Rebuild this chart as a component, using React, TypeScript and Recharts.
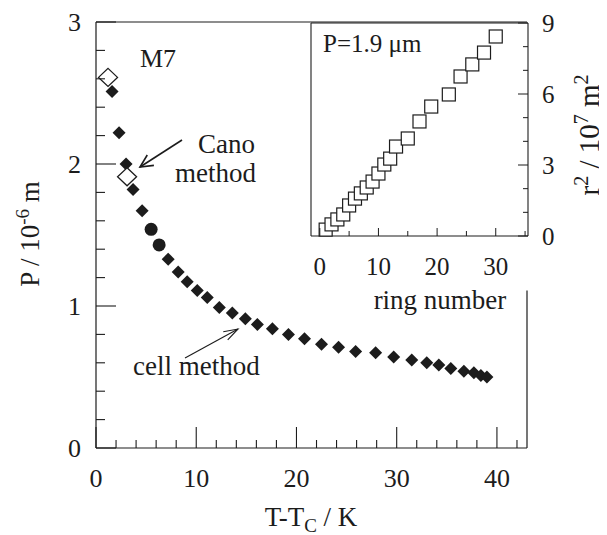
import React from 'react';
import { ScatterChart, Scatter, XAxis, YAxis, ReferenceLine } from 'recharts';

const FONT = '"Liberation Serif", "Times New Roman", Times, serif';
const INK = '#1c1c1c';

// ---- main plot data (T - Tc in K, P in 1e-6 m) ----
const cellT = [1.6, 2.3, 3.0, 3.7, 4.6, 7.2, 8.2, 9.1, 10.1, 11.1, 12.3, 13.6, 14.9, 16.1, 17.6, 19.2, 20.8, 22.5, 24.2, 25.9, 27.9, 29.7, 31.5, 33.0, 34.2, 35.4, 36.7, 37.7, 38.4, 39.0];
const cellP = [2.51, 2.22, 2.0, 1.82, 1.67, 1.33, 1.24, 1.17, 1.11, 1.06, 0.99, 0.95, 0.91, 0.87, 0.84, 0.8, 0.77, 0.73, 0.71, 0.68, 0.67, 0.64, 0.62, 0.6, 0.585, 0.56, 0.54, 0.53, 0.51, 0.5];
const circleT = [5.5, 6.3];
const circleP = [1.54, 1.43];
const canoT = [1.2, 3.1];
const canoP = [2.61, 1.91];

// ---- inset data (ring number, r^2 in 1e-7 m^2) ----
const ringN = [1, 2, 3, 4, 5, 6, 7, 8, 9, 10, 11, 12, 13, 15, 17, 19, 22, 24, 26, 28, 30];
const ringR2 = [0.27, 0.49, 0.7, 0.91, 1.29, 1.58, 1.8, 2.05, 2.3, 2.64, 3.02, 3.27, 3.78, 4.12, 4.84, 5.47, 5.98, 6.74, 7.25, 7.75, 8.43];

// ---- ticks ----
const mainTicksX = [0, 2, 4, 6, 8, 10, 12, 14, 16, 18, 20, 22, 24, 26, 28, 30, 32, 34, 36, 38, 40, 42];
const mainLabelsX = [0, 10, 20, 30, 40];
const mainTicksY = [0, 0.2, 0.4, 0.6, 0.8, 1, 1.2, 1.4, 1.6, 1.8, 2, 2.2, 2.4, 2.6, 2.8, 3];
const mainLabelsY = [0, 1, 2, 3];
const insetTicksX = [0, 5, 10, 15, 20, 25, 30, 35];
const insetLabelsX = [0, 10, 20, 30];
const insetTicksY = [0, 1, 2, 3, 4, 5, 6, 7, 8, 9];
const insetLabelsY = [0, 3, 6, 9];

const toPts = (xs: number[], ys: number[]) => xs.map((x, i) => ({ x, y: ys[i] }));
const isIn = (list: number[], v: number) => list.some((l) => Math.abs(l - v) < 1e-6);

const cellData = toPts(cellT, cellP);
const circleData = toPts(circleT, circleP);
const canoData = toPts(canoT, canoP);
const ringData = toPts(ringN, ringR2);

const FilledDiamond = (p: any) => {
  const { cx, cy } = p;
  const r = 6.5;
  return <path d={`M${cx},${cy - r}L${cx + r},${cy}L${cx},${cy + r}L${cx - r},${cy}Z`} fill={INK} />;
};
const OpenDiamond = (p: any) => {
  const { cx, cy } = p;
  const rx = 9.5, ry = 9;
  return <path d={`M${cx},${cy - ry}L${cx + rx},${cy}L${cx},${cy + ry}L${cx - rx},${cy}Z`} fill="#fff" stroke={INK} strokeWidth={1.3} />;
};
const Dot = (p: any) => <circle cx={p.cx} cy={p.cy} r={6.5} fill={INK} />;
const OpenSquare = (p: any) => (
  <rect x={p.cx - 6.5} y={p.cy - 6.5} width={13} height={13} fill="#fff" stroke={INK} strokeWidth={1.2} />
);

const MainXTick = (p: any) => {
  const v = p.payload.value;
  const major = isIn(mainLabelsX, v);
  return (
    <g>
      <line x1={p.x} x2={p.x} y1={p.y} y2={p.y - (major ? 21 : 8)} stroke={INK} strokeWidth={1.1} />
      {major && (
        <text x={p.x} y={p.y + 39} textAnchor="middle" fontFamily={FONT} fontSize={26} fill={INK}>{v}</text>
      )}
    </g>
  );
};
const MainYTick = (p: any) => {
  const v = p.payload.value;
  const major = isIn(mainLabelsY, v);
  return (
    <g>
      <line x1={p.x} x2={p.x + (major ? 20 : 9)} y1={p.y} y2={p.y} stroke={INK} strokeWidth={1.1} />
      {major && (
        <text x={p.x - 15} y={p.y + 9} textAnchor="end" fontFamily={FONT} fontSize={26} fill={INK}>{Math.round(v)}</text>
      )}
    </g>
  );
};
const InsetXTick = (p: any) => {
  const v = p.payload.value;
  const major = isIn(insetLabelsX, v);
  return (
    <g>
      <line x1={p.x} x2={p.x} y1={p.y} y2={p.y - (major ? 8 : 5)} stroke={INK} strokeWidth={1} />
      {major && (
        <text x={p.x} y={p.y + 39} textAnchor="middle" fontFamily={FONT} fontSize={25} fill={INK}>{v}</text>
      )}
    </g>
  );
};
const InsetYTick = (p: any) => {
  const v = p.payload.value;
  const major = isIn(insetLabelsY, v);
  return (
    <g>
      <line x1={p.x} x2={p.x - (major ? 10 : 5)} y1={p.y} y2={p.y} stroke={INK} strokeWidth={1} />
      {major && (
        <text x={p.x + 14} y={p.y + 9} textAnchor="start" fontFamily={FONT} fontSize={25} fill={INK}>{Math.round(v)}</text>
      )}
    </g>
  );
};

const Arrow = ({ x1, y1, x2, y2, len, ang, w }: any) => {
  const a = Math.atan2(y1 - y2, x1 - x2);
  const t = (ang * Math.PI) / 180;
  const b1 = [x2 + len * Math.cos(a + t), y2 + len * Math.sin(a + t)];
  const b2 = [x2 + len * Math.cos(a - t), y2 + len * Math.sin(a - t)];
  return (
    <g stroke={INK} strokeWidth={w} fill="none">
      <line x1={x1} y1={y1} x2={x2} y2={y2} />
      <polyline points={`${b1[0]},${b1[1]} ${x2},${y2} ${b2[0]},${b2[1]}`} />
    </g>
  );
};

const txt = { fontFamily: FONT, fill: INK } as const;

export default function App() {
  return (
    <div style={{ position: 'relative', width: 599, height: 527 }}>
      <div style={{ position: 'absolute', left: 0, top: 0 }}>
        <ScatterChart width={599} height={527} margin={{ top: 14, left: 48, right: 80, bottom: 47 }}>
          <XAxis
            type="number"
            dataKey="x"
            domain={[0, 43]}
            ticks={mainTicksX}
            interval={0}
            height={40}
            tickSize={0}
            tickMargin={0}
            tickLine={false}
            tick={MainXTick}
            axisLine={{ stroke: INK, strokeWidth: 1.2 }}
          />
          <YAxis
            type="number"
            dataKey="y"
            domain={[0, 3]}
            ticks={mainTicksY}
            interval={0}
            width={40}
            tickSize={0}
            tickMargin={0}
            tickLine={false}
            tick={MainYTick}
            axisLine={{ stroke: INK, strokeWidth: 1.2 }}
          />
          <ReferenceLine y={3} stroke={INK} strokeWidth={1.2} />
          <ReferenceLine segment={[{ x: 43, y: 0 }, { x: 43, y: 1.11 }]} stroke={INK} strokeWidth={1.2} />
          <Scatter data={cellData} shape={FilledDiamond} isAnimationActive={false} />
          <Scatter data={circleData} shape={Dot} isAnimationActive={false} />
          <Scatter data={canoData} shape={OpenDiamond} isAnimationActive={false} />
        </ScatterChart>
      </div>
      <div style={{ position: 'absolute', left: 292, top: -7 }}>
        <ScatterChart width={307} height={314} margin={{ top: 22, left: 11, right: 39, bottom: 39 }}>
          <XAxis
            type="number"
            dataKey="x"
            domain={[-1.5, 35.5]}
            ticks={insetTicksX}
            interval={0}
            height={40}
            tickSize={0}
            tickMargin={0}
            tickLine={false}
            tick={InsetXTick}
            axisLine={{ stroke: INK, strokeWidth: 1.1 }}
          />
          <YAxis
            type="number"
            dataKey="y"
            orientation="right"
            domain={[0, 9]}
            ticks={insetTicksY}
            interval={0}
            width={40}
            tickSize={0}
            tickMargin={0}
            tickLine={false}
            tick={InsetYTick}
            axisLine={{ stroke: INK, strokeWidth: 1.1 }}
          />
          <ReferenceLine y={9} stroke={INK} strokeWidth={1.1} />
          <ReferenceLine x={-1.5} stroke={INK} strokeWidth={1.1} />
          <Scatter data={ringData} shape={OpenSquare} isAnimationActive={false} />
        </ScatterChart>
      </div>
      <svg
        width={599}
        height={527}
        style={{ position: 'absolute', left: 0, top: 0, pointerEvents: 'none', overflow: 'visible' }}
      >
        <text x={132} y={59} fontSize={26} {...txt}>M7</text>
        <text x={190} y={145} fontSize={27} {...txt}>Cano</text>
        <text x={167} y={174} fontSize={27} {...txt}>method</text>
        <text x={125} y={367} fontSize={27} {...txt}>cell method</text>
        <text x={315} y={44} fontSize={25} {...txt}>P=1.9 μm</text>
        <text x={432} y={301} fontSize={27} textAnchor="middle" {...txt}>ring number</text>
        <text x={303} y={518} fontSize={27} textAnchor="middle" {...txt}>
          T-T<tspan dy={6} fontSize={19}>C</tspan><tspan dy={-6}> / K</tspan>
        </text>
        <text transform="translate(31,226) rotate(-90)" fontSize={27} textAnchor="middle" {...txt}>
          P / 10<tspan dy={-10} fontSize={19}>-6</tspan><tspan dy={10}> m</tspan>
        </text>
        <text transform="translate(591,127) rotate(-90)" fontSize={29} textAnchor="middle" {...txt}>
          r<tspan dy={-11} fontSize={20}>2</tspan><tspan dy={11}> / 10</tspan><tspan dy={-11} fontSize={20}>7</tspan><tspan dy={11}> m</tspan><tspan dy={-11} fontSize={20}>2</tspan>
        </text>
        <Arrow x1={174} y1={132} x2={132} y2={159} len={14} ang={26} w={1.6} />
        <Arrow x1={177} y1={350} x2={230} y2={321} len={15} ang={18} w={1.1} />
      </svg>
    </div>
  );
}
